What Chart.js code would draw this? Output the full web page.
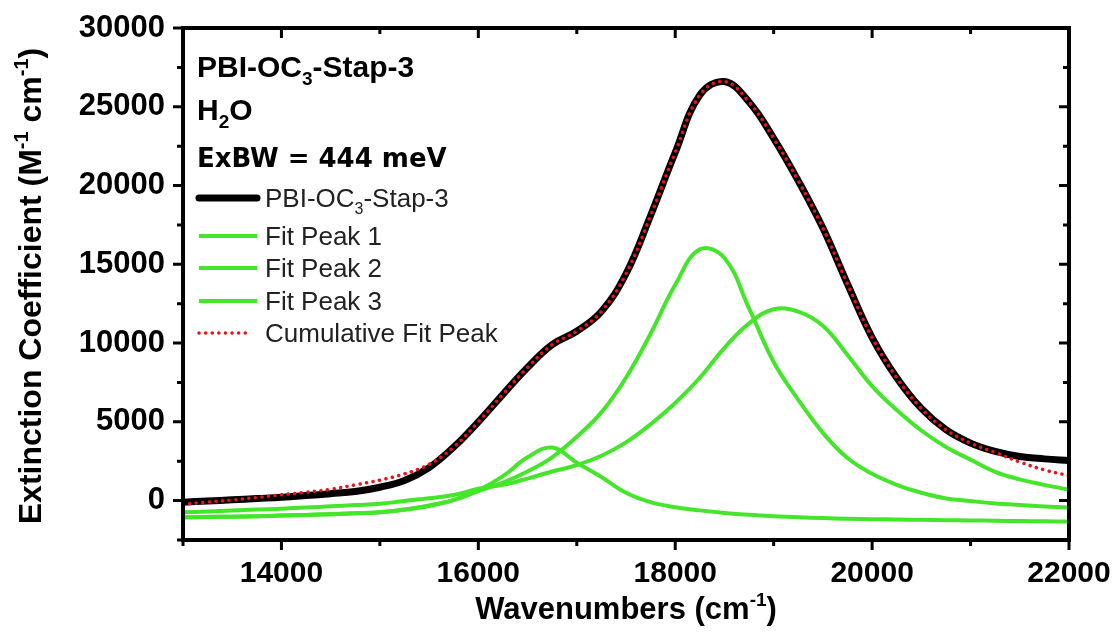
<!DOCTYPE html>
<html>
<head>
<meta charset="utf-8">
<script src="https://cdn.jsdelivr.net/npm/chart.js@4.4.1/dist/chart.umd.min.js"></script>
<style>
  html, body { margin: 0; padding: 0; background: #fff; }
</style>
</head>
<body>
<canvas id="chart" width="1118" height="634"></canvas>
<script>
// values, cm-1 and M-1 cm-1
const wavenumbers = [13000, 13250, 13500, 13750, 14000, 14250, 14500, 14750, 15000, 15250, 15500, 15750,
  16000, 16250, 16500, 16750, 17000, 17250, 17500, 17750, 18000, 18250, 18500, 18750, 19000, 19250,
  19500, 19750, 20000, 20250, 20500, 20750, 21000, 21250, 21500, 21750, 22000];

const pbiData = [-100, -20, 50, 130, 210, 320, 440, 580, 850, 1280, 2100, 3400,
  5000, 6750, 8450, 9900, 10750, 12000, 14400, 18100, 22100, 25740, 26600, 25300, 23000, 20300,
  17300, 13750, 10350, 7800, 5850, 4500, 3650, 3120, 2800, 2650, 2540];

const fitPeak1 = [-1060, -1040, -1020, -990, -950, -910, -860, -800, -740, -560, -300, 50,
  650, 1550, 2750, 3370, 2400, 1500, 500, -100, -420, -620, -780, -900, -990, -1060,
  -1110, -1150, -1180, -1200, -1220, -1240, -1260, -1280, -1300, -1315, -1330];

const fitPeak2 = [-1060, -1040, -1020, -990, -950, -910, -860, -800, -740, -580, -340, 30,
  600, 1150, 1850, 2750, 4050, 5600, 7800, 10600, 13700, 15950, 15400, 12200, 8800, 6400,
  4300, 2700, 1700, 1000, 500, 140, -30, -180, -280, -370, -445];

const fitPeak3 = [-740, -690, -630, -570, -510, -440, -360, -280, -200, -20, 150, 360,
  750, 1000, 1400, 1850, 2250, 2850, 3700, 4850, 6200, 7800, 9700, 11250, 12150, 12000,
  11100, 9250, 7270, 5750, 4450, 3400, 2600, 1830, 1350, 1000, 700];

const cumulativeFit = [-220, -90, 40, 200, 370, 530, 720, 1000, 1300, 1700, 2300, 3400,
  5000, 6750, 8450, 9900, 10750, 12000, 14400, 18100, 22100, 25740, 26600, 25300, 23000, 20300,
  17300, 13750, 10350, 7800, 5850, 4500, 3650, 3050, 2450, 1950, 1580];

const seriesNames = ["PBI-OC_{3}-Stap-3", "Fit Peak 1", "Fit Peak 2", "Fit Peak 3", "Cumulative Fit Peak"];
const headerLines = ["PBI-OC_{3}-Stap-3", "H_{2}O", "ExBW = 444 meV"];
const xTitle = "Wavenumbers (cm^{-1})";
const yTitle = "Extinction Coefficient (M^{-1} cm^{-1})";

const FONT = "'Liberation Sans', Arial, sans-serif";
const GREEN = "#45e52b";

const toPoints = vals => wavenumbers.map((w, i) => ({ x: w, y: vals[i] }));

// text with _{sub} and ^{sup}
function richParts(text) {
  const parts = [];
  const re = /([_^])\{([^}]*)\}/g;
  let last = 0, m;
  while ((m = re.exec(text))) {
    if (m.index > last) parts.push({ t: text.slice(last, m.index), mode: "n" });
    parts.push({ t: m[2], mode: m[1] === "_" ? "sub" : "sup" });
    last = re.lastIndex;
  }
  if (last < text.length) parts.push({ t: text.slice(last), mode: "n" });
  return parts;
}

function drawRich(ctx, text, x, y, size, weight, family, align) {
  const parts = richParts(text);
  const fontFor = p => `${weight} ${p.mode === "n" ? size : Math.round(size * 0.62)}px ${family}`;
  let total = 0;
  parts.forEach(p => { ctx.font = fontFor(p); p.w = ctx.measureText(p.t).width; total += p.w; });
  let cx = align === "center" ? x - total / 2 : x;
  ctx.textAlign = "left";
  ctx.textBaseline = "alphabetic";
  parts.forEach(p => {
    ctx.font = fontFor(p);
    const dy = p.mode === "sub" ? size * 0.25 : p.mode === "sup" ? -size * 0.42 : 0;
    ctx.fillText(p.t, cx, y + dy);
    cx += p.w;
  });
}

const noEdgePadding = s => {
  s.paddingLeft = 0; s.paddingRight = 0; s.paddingTop = 0; s.paddingBottom = 0;
};

const framePlugin = {
  id: "frame",
  afterDraw(chart) {
    const { ctx, chartArea: a, scales: { x, y } } = chart;
    ctx.save();
    ctx.strokeStyle = "#000";
    ctx.lineWidth = 4;
    ctx.strokeRect(a.left, a.top, a.right - a.left, a.bottom - a.top);

    // ticks: out on left/bottom, in on top/right
    ctx.lineWidth = 3;
    ctx.beginPath();
    x.ticks.forEach(t => {
      const px = x.getPixelForValue(t.value);
      const len = t.value % 2000 === 0 ? 10 : 6;
      ctx.moveTo(px, a.bottom); ctx.lineTo(px, a.bottom + len);
      ctx.moveTo(px, a.top); ctx.lineTo(px, a.top + len);
    });
    y.ticks.forEach(t => {
      const py = y.getPixelForValue(t.value);
      const len = t.value % 5000 === 0 ? 10 : 6;
      ctx.moveTo(a.left, py); ctx.lineTo(a.left - len, py);
      ctx.moveTo(a.right, py); ctx.lineTo(a.right - len, py);
    });
    ctx.stroke();

    // axis titles
    ctx.fillStyle = "#000";
    drawRich(ctx, xTitle, (a.left + a.right) / 2, 619, 31, "bold", FONT, "center");
    ctx.save();
    ctx.translate(41, (a.top + a.bottom) / 2 + 2);
    ctx.rotate(-Math.PI / 2);
    drawRich(ctx, yTitle, 0, 0, 32, "bold", FONT, "center");
    ctx.restore();

    // header text
    drawRich(ctx, headerLines[0], 197, 77, 30, "bold", FONT, "left");
    drawRich(ctx, headerLines[1], 197, 120, 30, "bold", FONT, "left");
    drawRich(ctx, headerLines[2], 197, 167, 26, "bold", "'DejaVu Sans', sans-serif", "left");

    // legend
    const rows = [198, 236, 268, 301, 333];
    chart.data.datasets.forEach((ds, i) => {
      const ry = rows[i];
      ctx.save();
      ctx.strokeStyle = ds.borderColor;
      ctx.lineWidth = ds.borderWidth;
      ctx.lineCap = ds.borderCapStyle || "butt";
      ctx.setLineDash(ds.borderDash || []);
      ctx.beginPath();
      ctx.moveTo(199, ry);
      ctx.lineTo(i === 4 ? 250 : 257, ry);
      ctx.stroke();
      ctx.restore();
      ctx.fillStyle = "#222";
      drawRich(ctx, ds.label, 265, ry + 9, 26, "normal", FONT, "left");
    });
    ctx.restore();
  }
};

new Chart(document.getElementById("chart"), {
  type: "line",
  data: {
    datasets: [
      { label: seriesNames[0], data: toPoints(pbiData), borderColor: "#000", borderWidth: 7,
        borderCapStyle: "round", order: 3 },
      { label: seriesNames[1], data: toPoints(fitPeak1), borderColor: GREEN, borderWidth: 4, order: 2 },
      { label: seriesNames[2], data: toPoints(fitPeak2), borderColor: GREEN, borderWidth: 4, order: 2 },
      { label: seriesNames[3], data: toPoints(fitPeak3), borderColor: GREEN, borderWidth: 4, order: 2 },
      { label: seriesNames[4], data: toPoints(cumulativeFit), borderColor: "#e3161b", borderWidth: 3.5,
        borderCapStyle: "round", borderDash: [0.1, 6.5], order: 1 }
    ]
  },
  options: {
    responsive: false,
    animation: false,
    layout: { padding: { top: 28, right: 49, left: 0, bottom: 0 } },
    elements: {
      point: { radius: 0 },
      line: { tension: 0.4, fill: false }
    },
    plugins: { legend: { display: false }, tooltip: { enabled: false } },
    scales: {
      x: {
        type: "linear",
        min: 13000, max: 22000,
        afterFit: s => { s.height = 94; noEdgePadding(s); },
        grid: { display: false, drawTicks: false },
        border: { display: false },
        ticks: {
          stepSize: 1000, autoSkip: false, maxRotation: 0, padding: 16, color: "#000",
          font: { family: FONT, size: 30, weight: "bold" },
          callback: v => (v % 2000 === 0 ? String(v) : "")
        }
      },
      y: {
        type: "linear",
        min: -2500, max: 30000,
        afterFit: s => { s.width = 183; noEdgePadding(s); },
        grid: { display: false, drawTicks: false },
        border: { display: false },
        ticks: {
          stepSize: 2500, autoSkip: false, padding: 18, color: "#000",
          font: { family: FONT, size: 31, weight: "bold" },
          callback: v => (v >= 0 && v % 5000 === 0 ? String(v) : "")
        }
      }
    }
  },
  plugins: [framePlugin]
});
</script>
</body>
</html>
